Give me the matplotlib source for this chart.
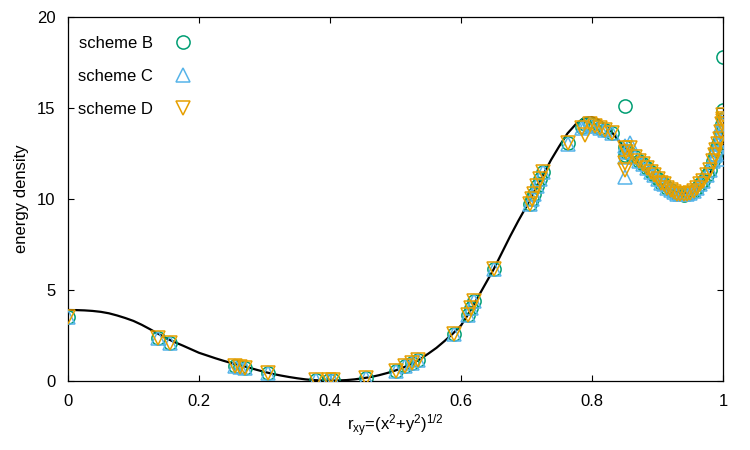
import matplotlib
matplotlib.use("Agg")
import matplotlib.pyplot as plt

plt.rcParams['font.family'] = ['Liberation Sans', 'DejaVu Sans']
plt.rcParams['mathtext.default'] = 'regular'

# reference curve
x_curve = [0.0, 0.0125, 0.025, 0.0375, 0.05, 0.0625, 0.075, 0.0875, 0.1, 0.1125, 0.125,
           0.1375, 0.15, 0.1625, 0.175, 0.1875, 0.2, 0.2125, 0.225, 0.2375, 0.25, 0.2625,
           0.275, 0.2875, 0.3, 0.3125, 0.325, 0.3375, 0.35, 0.3625, 0.375, 0.3875, 0.4,
           0.4125, 0.425, 0.4375, 0.45, 0.4625, 0.475, 0.4875, 0.5, 0.5125, 0.525, 0.5375,
           0.55, 0.5625, 0.575, 0.5875, 0.6, 0.6125, 0.625, 0.6375, 0.65, 0.6625, 0.675,
           0.6875, 0.7, 0.7125, 0.725, 0.7375, 0.75, 0.7625, 0.775, 0.7875, 0.8, 0.8125,
           0.825, 0.8375, 0.85, 0.8625, 0.875, 0.8875, 0.9, 0.9125, 0.925, 0.9375, 0.95,
           0.9625, 0.975, 0.9875, 0.995, 1.0]
y_curve = [3.9, 3.895, 3.88, 3.85, 3.8, 3.72, 3.6, 3.46, 3.3, 3.09, 2.85,
           2.6, 2.35, 2.14, 1.95, 1.75, 1.55, 1.4, 1.25, 1.11, 0.98, 0.86,
           0.75, 0.62, 0.5, 0.39, 0.3, 0.22, 0.15, 0.09, 0.05, 0.03, 0.02,
           0.03, 0.05, 0.09, 0.15, 0.22, 0.32, 0.44, 0.58, 0.75, 0.95, 1.2,
           1.5, 1.82, 2.2, 2.6, 3.05, 3.75, 4.55, 5.35, 6.15, 7.05, 7.95,
           8.8, 9.6, 10.45, 11.3, 12.15, 12.9, 13.6, 14.1, 14.45, 14.5, 14.3,
           13.9, 13.35, 12.8, 12.3, 11.8, 11.3, 10.9, 10.6, 10.4, 10.3, 10.35,
           10.6, 11.1, 11.9, 12.8, 13.9]

# sample points (same r for all schemes)
x_pts = [0.0, 0.138, 0.155, 0.255, 0.262, 0.27, 0.305, 0.378, 0.398, 0.405, 0.455,
         0.5, 0.515, 0.525, 0.535, 0.59, 0.61, 0.615, 0.62, 0.65, 0.705, 0.708,
         0.712, 0.716, 0.72, 0.725, 0.763, 0.785, 0.79, 0.797, 0.805, 0.812, 0.82,
         0.83, 0.85, 0.85, 0.85, 0.852, 0.858, 0.865, 0.872, 0.878, 0.884, 0.89,
         0.895, 0.9, 0.905, 0.91, 0.915, 0.92, 0.925, 0.93, 0.935, 0.94, 0.945,
         0.95, 0.955, 0.96, 0.965, 0.97, 0.975, 0.98, 0.985, 0.988, 0.99, 0.993,
         0.995, 0.997, 0.999, 1.0, 1.0, 1.0]
y_B = [3.5, 2.35, 2.1, 0.85, 0.75, 0.7, 0.42, 0.05, 0.03, 0.03, 0.15,
       0.55, 0.85, 1.0, 1.15, 2.6, 3.6, 4.0, 4.4, 6.15, 9.7, 10.0,
       10.3, 10.7, 11.1, 11.5, 13.1, 13.95, 14.1, 14.1, 14.0, 13.9, 13.8,
       13.6, 12.85, 12.4, 15.1, 12.6, 12.5, 12.3, 12.1, 11.9, 11.7, 11.5,
       11.3, 11.1, 10.9, 10.8, 10.6, 10.5, 10.4, 10.3, 10.25, 10.2, 10.3,
       10.35, 10.45, 10.6, 10.8, 11.0, 11.3, 11.6, 12.1, 12.4, 12.7, 13.0,
       13.3, 13.7, 14.1, 14.4, 14.9, 17.8]
y_C = [3.5, 2.35, 2.1, 0.85, 0.75, 0.7, 0.42, 0.05, 0.03, 0.03, 0.15,
       0.55, 0.85, 1.0, 1.15, 2.6, 3.6, 4.0, 4.4, 6.15, 9.7, 10.0,
       10.3, 10.7, 11.1, 11.5, 13.0, 13.9, 14.0, 14.1, 14.0, 13.9, 13.8,
       13.6, 12.3, 11.2, 12.9, 12.6, 13.1, 12.3, 12.1, 11.9, 11.7, 11.5,
       11.3, 11.1, 10.9, 10.8, 10.6, 10.5, 10.4, 10.3, 10.25, 10.25, 10.3,
       10.35, 10.45, 10.6, 10.8, 11.0, 11.3, 11.6, 12.1, 12.4, 12.5, 13.0,
       13.3, 13.7, 14.1, 14.4, 12.2, 13.0]
y_D = [3.5, 2.35, 2.1, 0.85, 0.75, 0.7, 0.42, 0.05, 0.03, 0.03, 0.15,
       0.55, 0.85, 1.0, 1.15, 2.6, 3.6, 4.0, 4.4, 6.15, 9.7, 10.0,
       10.3, 10.7, 11.1, 11.5, 13.1, 13.9, 13.5, 14.1, 14.0, 13.9, 13.8,
       13.6, 12.8, 11.6, 12.0, 12.6, 12.8, 12.3, 12.1, 11.9, 11.7, 11.5,
       11.3, 11.1, 10.9, 10.8, 10.6, 10.5, 10.4, 10.3, 10.25, 10.25, 10.3,
       10.35, 10.45, 10.6, 10.8, 11.0, 11.3, 11.6, 12.1, 12.4, 12.7, 13.0,
       13.3, 13.7, 14.1, 14.4, 14.6, 14.3]

fig = plt.figure(figsize=(7.5, 4.5), dpi=100)
ax = fig.add_axes([68/750, 1-381/450, 655/750, 364/450])

ax.plot(x_curve, y_curve, color='black', lw=1.6, zorder=1)
ax.plot(x_pts, y_B, ls='none', marker='o', ms=9.5, mfc='none', mec='#009e73', mew=1.1, label='scheme B', zorder=2)
ax.plot(x_pts, y_C, ls='none', marker='^', ms=9.5, mfc='none', mec='#56b4e9', mew=1.1, label='scheme C', zorder=3)
ax.plot(x_pts, y_D, ls='none', marker='v', ms=9.5, mfc='none', mec='#e69f00', mew=1.1, label='scheme D', zorder=4)

ax.set_xlim(0, 1)
ax.set_ylim(0, 20)
ax.set_xticks([0, 0.2, 0.4, 0.6, 0.8, 1])
ax.set_xticklabels(['0', '0.2', '0.4', '0.6', '0.8', '1'])
ax.set_yticks([0, 5, 10, 15, 20])
ax.tick_params(direction='in', top=True, right=True, length=4.5, width=0.8,
               labelsize=12, pad=9)
for s in ax.spines.values():
    s.set_linewidth(0.9)

ax.set_xlabel(r'$r_{xy}$=$(x^2$+$y^2)^{1/2}$', fontsize=12, labelpad=3)
ax.set_ylabel('energy density', fontsize=12, labelpad=6)

ax.legend(loc='upper left', bbox_to_anchor=(-0.007, 0.99), frameon=False, markerfirst=False,
          fontsize=12, labelspacing=1.1, handletextpad=0.8, handlelength=2.0)

fig.savefig('out.png', dpi=100)
